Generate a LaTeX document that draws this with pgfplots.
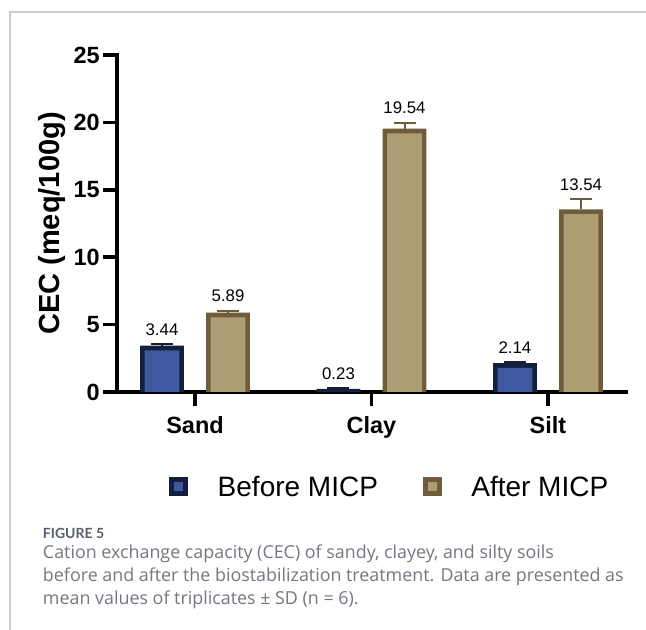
\documentclass[border=0pt]{standalone}
\usepackage{fontspec}
\setmainfont{Liberation Sans}
\newfontfamily\capfont{Lato}
\newfontfamily\bodyfont{Open Sans}
\usepackage{pgfplots}
\pgfplotsset{compat=1.18}
\definecolor{bfill}{HTML}{4058A0}
\definecolor{bdraw}{HTML}{131E40}
\definecolor{afill}{HTML}{AE9C72}
\definecolor{adraw}{HTML}{6E5D3B}
\definecolor{capgray}{HTML}{737782}
\definecolor{capdark}{HTML}{5A5F6B}
\definecolor{framegray}{HTML}{CCCCCC}
% xb, xa: positions of the Before / After bars around the categories 0, 1, 2
\pgfplotstableread{
xb      before sdb  xa     after sda
-0.187  3.44   0.10 0.187  5.89  0.14
0.813   0.23   0.05 1.187  19.54 0.44
1.813   2.14   0.06 2.187  13.54 0.76
}\cecdata
\begin{document}
\begin{tikzpicture}
\useasboundingbox (-87.75pt,-178.5pt) rectangle (396.75pt,294pt);
\draw[framegray, line width=1pt] (-80.25pt,-178.5pt) -- (-80.25pt,285pt) -- (396.75pt,285pt);
\begin{axis}[
  at={(0pt,0pt)}, anchor=south west,
  scale only axis, width=381.75pt, height=252.75pt,
  xmin=-0.442, xmax=2.442, ymin=0, ymax=25,
  axis lines*=left,
  axis line style={line width=2.6pt, black, line cap=rect},
  xtick={0,1,2}, xticklabels={Sand,Clay,Silt},
  ytick={0,5,10,15,20,25},
  tick align=outside, major tick length=10.5pt,
  tick style={line width=2.6pt, black},
  /pgf/number format/assume math mode=true,
  ticklabel style={font=\bfseries\fontsize{17.6}{20}\selectfont},
  yticklabel style={inner sep=2.25pt},
  xticklabel style={inner sep=0pt, yshift=-8pt},
  ylabel={CEC (meq/100g)},
  ylabel style={at={(axis description cs:-0.1277,0.5)}, anchor=center, font=\bfseries\fontsize{21.8}{24}\selectfont},
  legend columns=2,
  legend style={draw=none, fill=none, at={(axis description cs:0.09,-0.282)}, anchor=west,
    font=\fontsize{21}{24}\selectfont,
    /tikz/every even column/.append style={column sep=30pt}},
  clip=true,
]
\addlegendimage{legend image code/.code={\fill[bdraw] (1.75pt,-6pt) rectangle (15.25pt,7.5pt); \fill[bfill] (5.5pt,-2.25pt) rectangle (11.5pt,3.75pt); \path[draw=none,fill=none] (0,0) -- (36pt,0);}}
\addlegendentry{Before MICP}
\addlegendimage{legend image code/.code={\fill[adraw] (1.75pt,-6pt) rectangle (15.25pt,7.5pt); \fill[afill] (5.5pt,-2.25pt) rectangle (11.5pt,3.75pt); \path[draw=none,fill=none] (0,0) -- (36pt,0);}}
\addlegendentry{After MICP}

% outer bars (border colour) with error bars
\addplot[ybar, bar width=0.249, bar shift=0pt, fill=bdraw, draw=none, forget plot,
  error bars/.cd, y dir=plus, y explicit,
  error bar style={line width=1.5pt, bdraw},
  error mark options={rotate=90, line width=1.5pt, mark size=8.25pt, bdraw}]
  table[x=xb, y=before, y error=sdb] {\cecdata};
\addplot[ybar, bar width=0.249, bar shift=0pt, fill=adraw, draw=none, forget plot,
  error bars/.cd, y dir=plus, y explicit,
  error bar style={line width=1.5pt, adraw},
  error mark options={rotate=90, line width=1.5pt, mark size=8.25pt, adraw}]
  table[x=xa, y=after, y error=sda] {\cecdata};
% inner fill of the bars
\addplot[ybar, bar width=0.196, bar shift=0pt, fill=bfill, draw=none, forget plot, yshift=-3.5pt]
  table[x=xb, y=before] {\cecdata};
\addplot[ybar, bar width=0.196, bar shift=0pt, fill=afill, draw=none, forget plot, yshift=-3.5pt]
  table[x=xa, y=after] {\cecdata};
% value labels
\addplot[draw=none, mark=none, forget plot, nodes near coords, point meta=explicit symbolic,
  nodes near coords style={anchor=south, inner sep=0pt, yshift=6.5pt, font=\fontsize{12.6}{14}\selectfont, text=black}]
  coordinates {(-0.187,3.54) [3.44] (0.813,0.28) [0.23] (1.813,2.20) [2.14]
               (0.187,6.03) [5.89] (1.187,19.98) [19.54] (2.187,14.30) [13.54]};
\end{axis}
\node[anchor=base west, inner sep=0pt, font=\capfont\bfseries\fontsize{10.5}{12}\selectfont, text=capdark] at (-55.7pt,-109.8pt) {FIGURE 5};
\node[anchor=base west, inner sep=0pt, font=\bodyfont\fontsize{13.4}{16}\selectfont, text=capgray] at (-55.7pt,-124.7pt) {Cation exchange capacity (CEC) of sandy, clayey, and silty soils};
\node[anchor=base west, inner sep=0pt, font=\bodyfont\fontsize{13.4}{16}\selectfont, text=capgray] at (-55.7pt,-142pt) {before and after the biostabilization treatment. Data are presented as};
\node[anchor=base west, inner sep=0pt, font=\bodyfont\fontsize{13.4}{16}\selectfont, text=capgray] at (-55.7pt,-159.2pt) {mean values of triplicates ± SD (n = 6).};
\end{tikzpicture}
\end{document}
